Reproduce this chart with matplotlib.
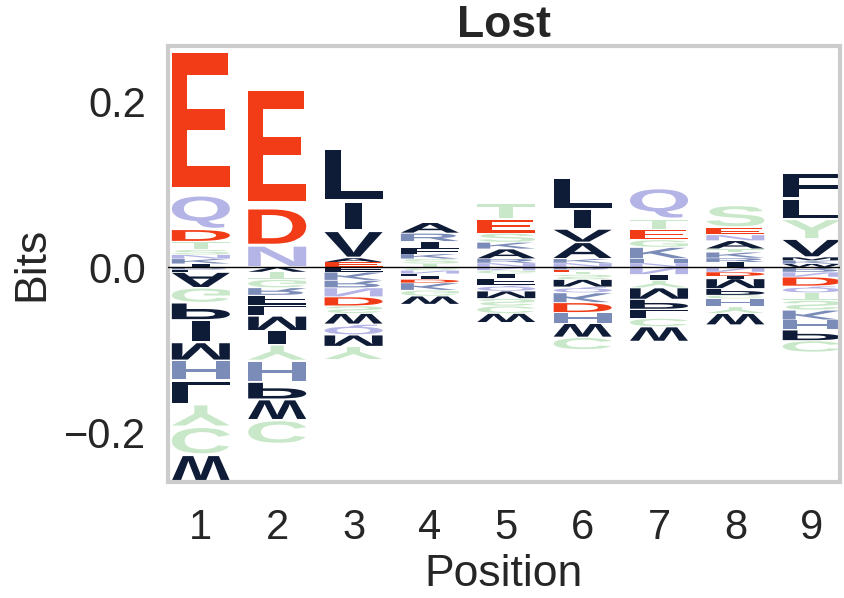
import numpy as np
import matplotlib.pyplot as plt
from matplotlib.textpath import TextPath
from matplotlib.patches import PathPatch
from matplotlib.font_manager import FontProperties
from matplotlib.transforms import Affine2D

# logo data: letters listed from the zero line outward
positions = [1, 2, 3, 4, 5, 6, 7, 8, 9]

up_letters = [
    ['I', 'K', 'N', 'S', 'T', 'D', 'Q', 'E'],
    ['N', 'D', 'E'],
    ['E', 'A', 'V', 'I', 'L'],
    ['T', 'S', 'K', 'F', 'I', 'R', 'A'],
    ['N', 'R', 'A', 'K', 'S', 'E', 'T'],
    ['N', 'K', 'A', 'V', 'I', 'L'],
    ['N', 'H', 'K', 'G', 'E', 'T', 'Q'],
    ['I', 'R', 'K', 'T', 'A', 'N', 'E', 'S'],
    ['W', 'K', 'M', 'V', 'Y', 'L', 'F'],
]
up_values = [
    [0.004, 0.006, 0.005, 0.006, 0.010, 0.0145, 0.042, 0.180],
    [0.026, 0.046, 0.148],
    [0.006, 0.005, 0.033, 0.035, 0.066],
    [0.004, 0.006, 0.006, 0.007, 0.008, 0.010, 0.013],
    [0.005, 0.005, 0.012, 0.008, 0.011, 0.017, 0.019],
    [0.005, 0.005, 0.020, 0.016, 0.024, 0.038],
    [0.005, 0.005, 0.014, 0.009, 0.013, 0.012, 0.038],
    [0.006, 0.005, 0.007, 0.004, 0.010, 0.007, 0.009, 0.027],
    [0.004, 0.004, 0.004, 0.022, 0.024, 0.025, 0.031],
]

down_letters = [
    ['R', 'F', 'A', 'G', 'P', 'I', 'M', 'H', 'L', 'Y', 'C', 'W'],
    ['V', 'T', 'G', 'R', 'F', 'L', 'M', 'I', 'Y', 'H', 'P', 'W', 'C'],
    ['F', 'K', 'R', 'N', 'D', 'S', 'W', 'Q', 'M', 'Y'],
    ['S', 'N', 'L', 'I', 'D', 'K', 'G', 'W'],
    ['N', 'G', 'I', 'F', 'Q', 'M', 'S', 'C', 'W'],
    ['R', 'E', 'T', 'S', 'M', 'Q', 'K', 'D', 'H', 'W', 'C'],
    ['N', 'I', 'Y', 'M', 'P', 'L', 'C', 'W'],
    ['N', 'D', 'I', 'M', 'P', 'C', 'H', 'Y', 'W'],
    ['R', 'N', 'D', 'Q', 'T', 'S', 'K', 'H', 'P', 'C'],
]
down_values = [
    [-0.003, -0.003, -0.019, -0.018, -0.021, -0.027, -0.022, -0.024, -0.029, -0.027, -0.034, -0.033],
    [-0.006, -0.009, -0.010, -0.009, -0.012, -0.013, -0.018, -0.017, -0.019, -0.026, -0.021, -0.025, -0.029],
    [-0.006, -0.010, -0.009, -0.011, -0.011, -0.009, -0.013, -0.013, -0.014, -0.016],
    [-0.004, -0.004, -0.003, -0.004, -0.004, -0.009, -0.007, -0.010],
    [-0.004, -0.004, -0.006, -0.008, -0.007, -0.009, -0.009, -0.009, -0.011],
    [-0.003, -0.003, -0.003, -0.006, -0.009, -0.007, -0.012, -0.012, -0.013, -0.017, -0.015],
    [-0.009, -0.007, -0.009, -0.014, -0.012, -0.011, -0.010, -0.018],
    [-0.006, -0.005, -0.003, -0.012, -0.008, -0.004, -0.010, -0.008, -0.014],
    [-0.006, -0.006, -0.011, -0.008, -0.009, -0.012, -0.012, -0.012, -0.013, -0.014],
]

red = '#f23c17'
lav = '#b4b4e6'
grn = '#c9e8c9'
blu = '#7c8cb8'
nav = '#0f1c38'
aa_colors = {'E': red, 'D': red, 'Q': lav, 'N': lav,
             'S': grn, 'T': grn, 'G': grn, 'Y': grn, 'C': grn,
             'H': blu, 'K': blu, 'R': blu,
             'A': nav, 'V': nav, 'L': nav, 'I': nav, 'M': nav,
             'F': nav, 'W': nav, 'P': nav}

fp = FontProperties(family='Liberation Sans', weight='bold')
col_width = 0.76
vpad = 0.1
min_ink = 0.475  # thin glyphs (I) are not stretched to the full width


def draw_glyph(ax, letter, x, y0, y1, flip):
    path = TextPath((0, 0), letter, size=1, prop=fp)
    ext = path.get_extents()
    h = y1 - y0
    ya = y0 + h * vpad / 2
    yb = y1 - h * vpad / 2
    sx = col_width / max(ext.width, min_ink)
    sy = (yb - ya) / ext.height
    t = Affine2D().translate(-ext.x0 - ext.width / 2, -ext.y0)
    if flip:
        t = t.scale(sx, -sy).translate(x, yb)
    else:
        t = t.scale(sx, sy).translate(x, ya)
    ax.add_patch(PathPatch(t.transform_path(path), facecolor=aa_colors[letter],
                           edgecolor='none', lw=0))


plt.rcParams['font.family'] = ['Liberation Sans', 'DejaVu Sans']
txt = '#262626'

fig = plt.figure(figsize=(8.44, 5.98), dpi=100)
ax = fig.add_axes([168 / 844, 116 / 598, 672 / 844, 436 / 598])

tops, bottoms = [], []
for p, ls, vs in zip(positions, up_letters, up_values):
    floor = 0.0
    for l, v in zip(ls, vs):
        draw_glyph(ax, l, p, floor, floor + v, False)
        floor += v
    tops.append(floor)
for p, ls, vs in zip(positions, down_letters, down_values):
    ceil = 0.0
    for l, v in zip(ls, vs):
        draw_glyph(ax, l, p, ceil + v, ceil, True)
        ceil += v
    bottoms.append(ceil)

ax.axhline(0, color='black', lw=1, zorder=5)
ax.set_xlim(0.57, 9.37)
ax.set_ylim(min(bottoms), max(tops))
ax.set_xticks(positions)
ax.set_yticks([-0.2, 0.0, 0.2])
ax.set_yticklabels(['\u22120.2', '0.0', '0.2'])
ax.tick_params(axis='y', length=0, pad=16, labelsize=30, colors=txt)
ax.tick_params(axis='x', length=0, pad=19, labelsize=30, colors=txt)
for s in ax.spines.values():
    s.set_color('#cccccc')
    s.set_linewidth(3)
ax.set_xlabel('Position', fontsize=32, color=txt, labelpad=4)
ax.set_ylabel('Bits', fontsize=32, color=txt, labelpad=8)
ax.set_title('Lost', fontsize=32, fontweight='bold', color=txt, pad=4)

plt.savefig('out.png', dpi=100)
